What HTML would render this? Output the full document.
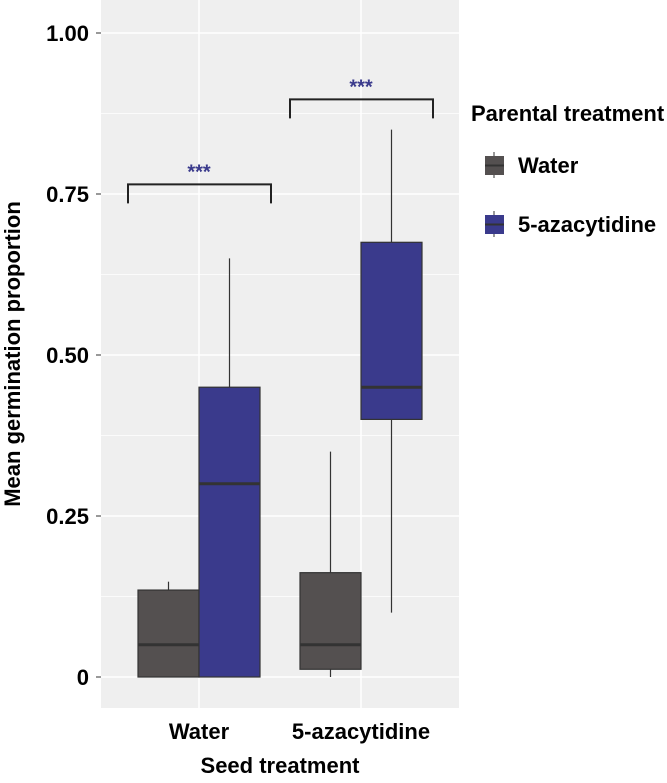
<!DOCTYPE html>
<html><head><meta charset="utf-8"><style>
html,body{margin:0;padding:0;background:#fff;}
svg text{font-family:"Liberation Sans",Arial,sans-serif;font-weight:bold;}
</style></head><body>
<svg id="chart" width="667" height="778" viewBox="0 0 667 778" xmlns="http://www.w3.org/2000/svg">
<rect x="101" y="0" width="358" height="708" fill="#efefef"/>
<g id="grid"></g>
<g id="boxes"></g>
<g id="brackets"></g>
<g id="axes"></g>
<text transform="translate(20,354) rotate(-90)" text-anchor="middle" font-size="22" fill="#000">Mean germination proportion</text>
<text x="280" y="773" text-anchor="middle" font-size="22" fill="#000">Seed treatment</text>
<g>
<text x="471" y="121" font-size="22" fill="#000">Parental treatment</text>
<g>
<line x1="494" y1="152" x2="494" y2="178" stroke="#333" stroke-width="1"/>
<rect x="485" y="156" width="19" height="19" fill="#545050"/>
<line x1="485" y1="165.5" x2="504" y2="165.5" stroke="#333" stroke-width="2"/>
<text x="518" y="173" font-size="22" fill="#000">Water</text>
</g>
<g>
<line x1="494" y1="211" x2="494" y2="237" stroke="#333" stroke-width="1"/>
<rect x="485" y="215" width="19" height="19" fill="#3a3a8c"/>
<line x1="485" y1="224.5" x2="504" y2="224.5" stroke="#333" stroke-width="2"/>
<text x="518" y="232" font-size="22" fill="#000">5-azacytidine</text>
</g>
</g>
</svg>
<script>
const categories = ["Water", "5-azacytidine"];
const groups = ["Water", "5-azacytidine"];
const mins = [[0, 0], [0, 0.10]];
const q1s = [[0, 0], [0.012, 0.40]];
const medians = [[0.05, 0.30], [0.05, 0.45]];
const q3s = [[0.135, 0.45], [0.162, 0.675]];
const maxs = [[0.148, 0.65], [0.35, 0.85]];
const yTicks = [0, 0.25, 0.5, 0.75, 1.0];
const yTickLabels = ["0", "0.25", "0.50", "0.75", "1.00"];
const bracketY = [0.765, 0.897];
const sigLabels = ["***", "***"];

const NS = "http://www.w3.org/2000/svg";
const y = v => 677 - v * 644;
const xc = i => 199 + i * 162;
const bw = 61;
const colors = ["#545050", "#3a3a8c"];
function mk(tag, attrs, parent) {
  const e = document.createElementNS(NS, tag);
  for (const k in attrs) e.setAttribute(k, attrs[k]);
  document.getElementById(parent).appendChild(e);
  return e;
}
for (let i = 0; i < yTicks.length; i++) {
  const g = mk("line", {x1:101, x2:459, y1:y(yTicks[i]), y2:y(yTicks[i]), stroke:"#fff", "stroke-width":1.5}, "grid");
  
  
  if (i < yTicks.length - 1) {
    const m = mk("line", {x1:101, x2:459, y1:y((yTicks[i]+yTicks[i+1])/2), y2:y((yTicks[i]+yTicks[i+1])/2), stroke:"#fff", "stroke-width":0.7}, "grid");
    
    
  }
  const t = mk("text", {x:89, y:y(yTicks[i]) + 8, "text-anchor":"end", "font-size":22, fill:"#000"}, "axes");
  t.textContent = yTickLabels[i];
  
  
  const tk = mk("line", {x1:96, x2:101, y1:y(yTicks[i]), y2:y(yTicks[i]), stroke:"#333", "stroke-width":1}, "axes");
  
  
}
categories.forEach((c, i) => {
  const g = mk("line", {x1:xc(i), x2:xc(i), y1:0, y2:708, stroke:"#fff", "stroke-width":1.5}, "grid");
  
  
  const t = mk("text", {x:xc(i), y:739, "text-anchor":"middle", "font-size":22, fill:"#000"}, "axes");
  t.textContent = c;
  
  
  groups.forEach((gname, j) => {
    const cx = xc(i) + (j === 0 ? -bw/2 : bw/2);
    const w = mk("line", {x1:cx, x2:cx, y1:y(maxs[i][j]), y2:y(mins[i][j]), stroke:"#333", "stroke-width":1.2}, "boxes");
    
    
    const r = mk("rect", {x:cx - bw/2, y:y(q3s[i][j]), width:bw, height:Math.max(y(q1s[i][j]) - y(q3s[i][j]), 0), fill:colors[j], stroke:"#333", "stroke-width":1.2}, "boxes");
    
    
    const m = mk("line", {x1:cx - bw/2, x2:cx + bw/2, y1:y(medians[i][j]), y2:y(medians[i][j]), stroke:"#333", "stroke-width":3}, "boxes");
    
    
  });
  const by = y(bracketY[i]);
  const b = mk("path", {d:`M${xc(i)-71},${by+19} L${xc(i)-71},${by} L${xc(i)+72},${by} L${xc(i)+72},${by+19}`, fill:"none", stroke:"#222", "stroke-width":2}, "brackets");
  
  
  const s = mk("text", {x:xc(i), y:by - 6, "text-anchor":"middle", "font-size":20, fill:"#3a3a8c"}, "brackets");
  s.textContent = sigLabels[i];
  
  
});
</script>
</body></html>
